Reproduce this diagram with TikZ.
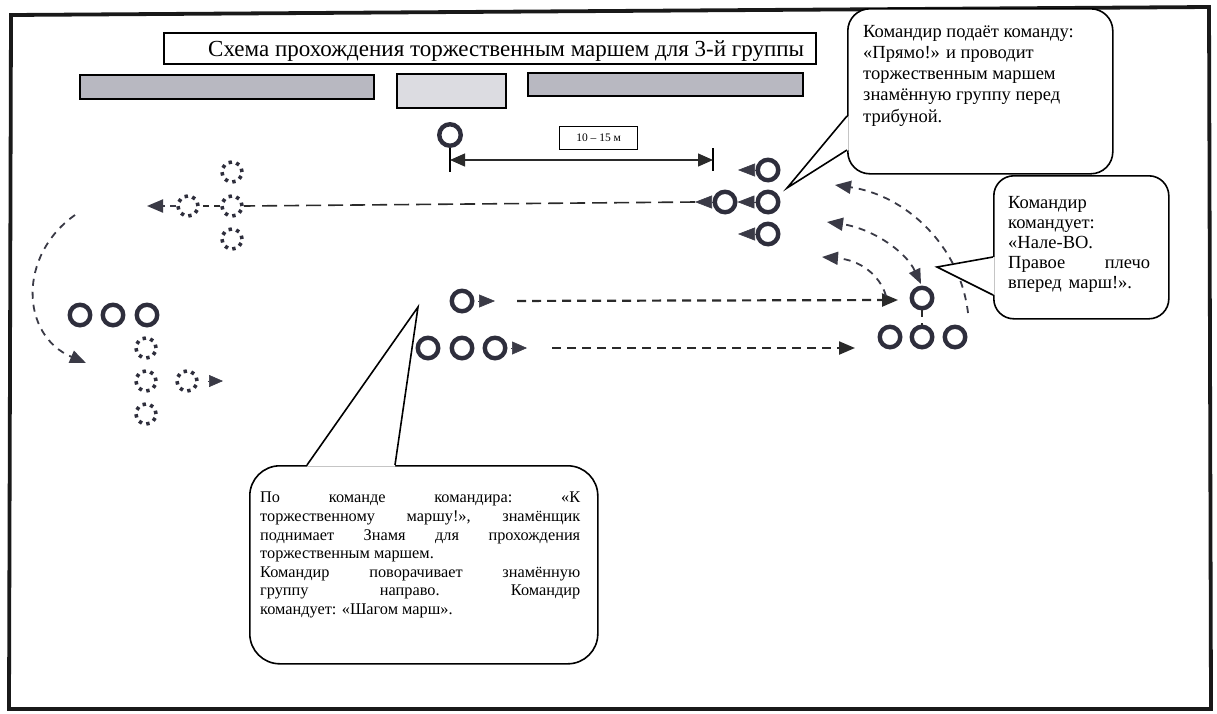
\documentclass[tikz,border=0pt]{standalone}
\usepackage{fontspec}
\setmainfont{Liberation Serif}
\usetikzlibrary{arrows.meta}
\definecolor{ringc}{HTML}{2E2E3C}
\definecolor{tipc}{HTML}{3A3A46}
\definecolor{linec}{HTML}{2A2A2A}
\definecolor{barA}{HTML}{B8B8C1}
\definecolor{barB}{HTML}{DCDCE1}
\tikzset{
  ring/.style={circle, draw=ringc, line width=4.4pt, fill=white, minimum size=20.5pt, inner sep=0pt},
  dring/.style={circle, draw=ringc, line width=3.6pt, fill=white, minimum size=20pt, inner sep=0pt, dash pattern=on 3.4pt off 4.45pt},
  bigtip/.style={-{Triangle[length=16pt,width=13pt]}},
  smalltip/.style={-{Triangle[length=17pt,width=13pt]}, color=tipc, line width=0.6pt},
  longdash/.style={color=linec, line width=1.6pt, dash pattern=on 15pt off 7pt},
  middash/.style={color=linec, line width=2.2pt, dash pattern=on 9pt off 6pt},
  curvedash/.style={color=linec, line width=1.8pt, dash pattern=on 7pt off 6pt},
  shortdash/.style={color=linec, line width=2pt, dash pattern=on 6pt off 5pt},
  bar/.style={draw=black, line width=2pt, anchor=north west, inner sep=0pt},
  callbox/.style={draw=black, line width=1.6pt, fill=white, anchor=north west, inner sep=0pt},
  calltext/.style={anchor=north west, inner sep=0pt, align=left},
}
\begin{document}
\begin{tikzpicture}[x=1pt, y=-1pt]
\useasboundingbox[fill=white] (0,0) rectangle (1217,713);
% outer frame
\draw[line width=3.8pt, draw=black!90] (11,15) -- (1209,7) -- (1211,709) -- (9,709) -- cycle;

% title and tribune bars
\node[draw=black, line width=1.6pt, anchor=north west, minimum width=652pt, minimum height=31pt, inner sep=0pt] (titlebox) at (163,32) {};
\node[anchor=base west, inner sep=0pt, font=\fontsize{23}{26}\selectfont] (title) at (208,56) {Схема прохождения торжественным маршем для 3-й группы};
\node[bar, fill=barA, minimum width=294pt, minimum height=24pt] (bar1) at (79,74) {};
\node[bar, fill=barB, minimum width=109pt, minimum height=34pt] (bar2) at (396,73) {};
\node[bar, fill=barA, minimum width=275pt, minimum height=23pt] (bar3) at (527,72) {};

% flag-bearer and distance
\node[ring, minimum size=21.5pt] (flag) at (450,135) {};
\coordinate (tickL) at (450,172);
\coordinate (tickR1) at (713,148);
\coordinate (tickR2) at (713,171);
\coordinate (dimL) at (450,160);
\coordinate (dimR) at (713,160);
\draw[line width=1.3pt] (flag.south) -- (tickL);
\draw[line width=1.3pt] (tickR1) -- (tickR2);
\draw[line width=1.3pt, color=linec, {Triangle[length=15pt,width=13pt]}-{Triangle[length=15pt,width=13pt]}] (dimL) -- (dimR);
\node[draw=black, line width=1.2pt, anchor=north west, minimum width=78pt, minimum height=23pt, inner sep=0pt, font=\fontsize{11.5}{13}\selectfont] (dist) at (559,126) {10 – 15 м};

% group in front of the tribune
\node[ring] (r1) at (768,170) {};
\node[ring] (r2) at (768,202) {};
\node[ring] (r3) at (768,234) {};
\node[ring] (r4) at (725,202) {};
\coordinate (a1) at (738,170);
\coordinate (a3) at (738,234);
\coordinate (a4) at (695,202);
\draw[smalltip] (r1.west) -- (a1);
\draw[smalltip] (r2.west) -- (r4.east);
\draw[smalltip] (r3.west) -- (a3);
\draw[smalltip] (r4.west) -- (a4);

% left dotted group (after passing)
\node[dring] (d1) at (232,172) {};
\node[dring] (d2) at (232,206) {};
\node[dring] (d3) at (232,239) {};
\node[dring] (d4) at (188,206) {};
\coordinate (e1) at (147,206);
\draw[longdash] (a4) -- (d2.east);
\draw[shortdash] (d2.west) -- (d4.east);
\draw[shortdash, color=tipc, bigtip] (d4.west) -- (e1);

% left curved arrow
\coordinate (cs) at (75,215);
\coordinate (ce) at (86,363);
\draw[curvedash, bigtip, color=tipc] (cs) .. controls (18,255) and (20,335) .. (ce);

% bottom-left group
\node[ring] (b1) at (80,315) {};
\node[ring] (b2) at (113,315) {};
\node[ring] (b3) at (147,315) {};
\node[dring] (f1) at (146,348) {};
\node[dring] (f2) at (146,381) {};
\node[dring] (f3) at (146,414) {};
\node[dring] (f4) at (187,381) {};
\coordinate (g1) at (223,381);
\draw[smalltip, -{Triangle[length=14pt,width=12pt]}, shorten <=9pt] (f4.east) -- (g1);

% middle group
\node[ring] (m1) at (462,301) {};
\node[ring] (n1) at (428,348) {};
\node[ring] (n2) at (462,348) {};
\node[ring] (n3) at (495,348) {};
\coordinate (h1) at (495,301);
\coordinate (h2) at (527,348);
\draw[smalltip, -{Triangle[length=16pt,width=13pt]}, shorten <=4pt] (m1.east) -- (h1);
\draw[smalltip, -{Triangle[length=15pt,width=13pt]}, shorten <=4pt] (n3.east) -- (h2);
\coordinate (k1) at (898,300);
\coordinate (k2) at (855,348);
\draw[middash, bigtip, shorten <=22pt] (h1) -- (k1);
\draw[middash, bigtip, shorten <=25pt] (h2) -- (k2);

% right group before wheeling
\node[ring] (sg) at (922,298) {};
\node[ring] (q1) at (890,337) {};
\node[ring] (q2) at (922,337) {};
\node[ring] (q3) at (955,337) {};
\coordinate (ca) at (968,313);
\coordinate (ta) at (835,185);
\coordinate (cb) at (921,284);
\coordinate (tb) at (827,222);
\coordinate (cc) at (886,296);
\coordinate (tc) at (822,257);
\draw[curvedash, bigtip, color=tipc] (ca) .. controls (960,245) and (905,195) .. (ta);
\draw[curvedash, color=tipc, {Triangle[length=15pt,width=12pt]}-{Triangle[length=16pt,width=13pt]}] (cb) .. controls (905,250) and (870,228) .. (tb);
\draw[curvedash] (sg.south) -- (q2.north);
\draw[curvedash, bigtip, color=tipc] (cc) .. controls (880,275) and (860,260) .. (tc);

% callout 1
\node[callbox, rounded corners=22pt, minimum width=265pt, minimum height=165pt] (cb1) at (847,8) {};
\coordinate (p1a) at (847,116);
\coordinate (p1b) at (847,150);
\coordinate (p1t) at (787,188);
\fill[white] ([xshift=1.5pt]p1a) -- (p1t) -- ([xshift=1.5pt]p1b) -- cycle;
\draw[line width=1.6pt, line join=miter] (p1a) -- (p1t) -- (p1b);
\node[calltext, font=\fontsize{18.5}{21.2}\selectfont] (txt1) at (863,25) {Командир подаёт команду:\\«Прямо!» и проводит\\торжественным маршем\\знамённую группу перед\\трибуной.};

% callout 2
\node[callbox, rounded corners=20pt, minimum width=175pt, minimum height=143pt] (cb2) at (993,175) {};
\coordinate (p2a) at (993,257);
\coordinate (p2b) at (993,295);
\coordinate (p2t) at (937,267);
\fill[white] ([xshift=1.5pt]p2a) -- (p2t) -- ([xshift=1.5pt]p2b) -- cycle;
\draw[line width=1.6pt, line join=miter] (p2a) -- (p2t) -- (p2b);
\node[calltext, font=\fontsize{18.5}{20}\selectfont] (txt2) at (1008,196) {Командир\\командует:\\«Нале-ВО.\\\hbox to 142pt{Правое\hfill плечо}\\вперед\hspace{7pt}марш!».};

% callout 3
\node[callbox, rounded corners=30pt, minimum width=348pt, minimum height=198pt] (cb3) at (249,465) {};
\coordinate (p3a) at (307,465);
\coordinate (p3b) at (395,465);
\coordinate (p3t) at (418,307);
\fill[white] ([yshift=-1.5pt]p3a) -- (p3t) -- ([yshift=-1.5pt]p3b) -- cycle;
\draw[line width=1.6pt, line join=miter] (p3a) -- (p3t) -- (p3b);
\node[calltext, font=\fontsize{16.3}{18.6}\selectfont] (txt3) at (260,492) {\hbox to 320pt{По\hfill команде\hfill командира:\hfill «К}\\\hbox to 320pt{торжественному\hfill маршу!»,\hfill знамёнщик}\\\hbox to 320pt{поднимает\hfill Знамя\hfill для\hfill прохождения}\\торжественным маршем.\\\hbox to 320pt{Командир\hfill поворачивает\hfill знамённую}\\\hbox to 320pt{группу\hfill направо.\hfill Командир}\\командует: «Шагом марш».};
\end{tikzpicture}
\end{document}
